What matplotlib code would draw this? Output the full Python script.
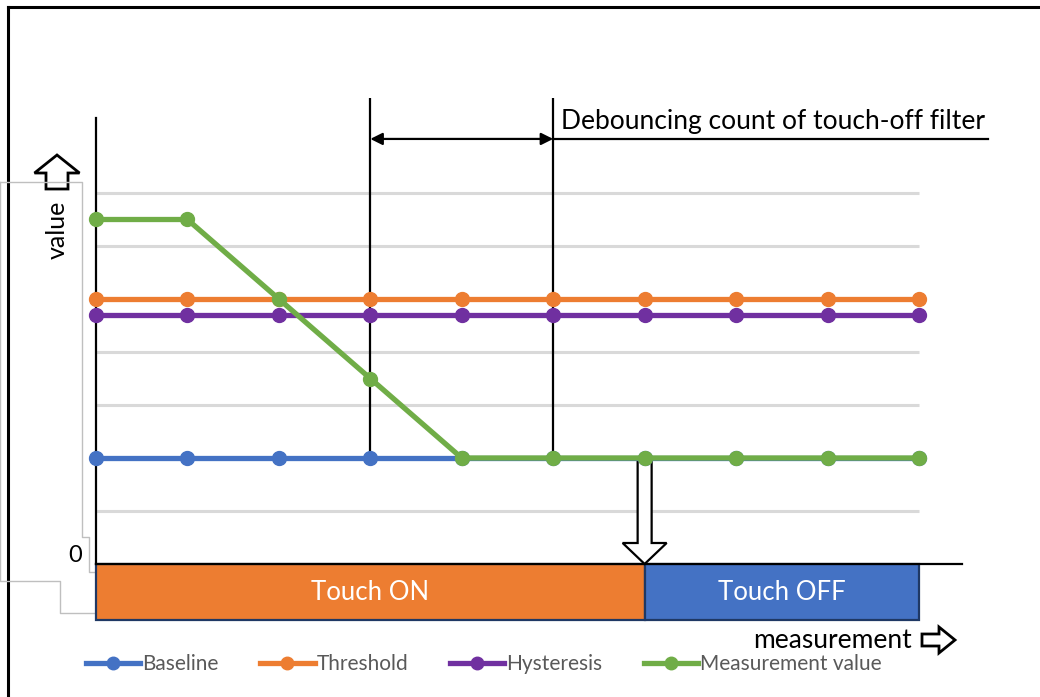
import matplotlib.pyplot as plt
from matplotlib.patches import FancyArrow, Rectangle

# Daten
steps = [0, 1, 2, 3, 4, 5, 6, 7, 8, 9]
baseline = [2, 2, 2, 2, 2, 2, 2, 2, 2, 2]
threshold = [5, 5, 5, 5, 5, 5, 5, 5, 5, 5]
hysteresis = [4.7, 4.7, 4.7, 4.7, 4.7, 4.7, 4.7, 4.7, 4.7, 4.7]
measurement = [6.5, 6.5, 5, 3.5, 2, 2, 2, 2, 2, 2]
grid_levels = [1, 2, 3, 4, 5, 6, 7]
series_names = ["Baseline", "Threshold", "Hysteresis", "Measurement value"]
series_colors = ["#4472C4", "#ED7D31", "#7030A0", "#70AD47"]
state_labels = ["Touch ON", "Touch OFF"]
state_edges = [0, 6, 9]
state_colors = ["#ED7D31", "#4472C4"]
debounce_start, debounce_end = 3, 5
touch_off_step = 6

plt.rcParams['font.family'] = ['Lato', 'DejaVu Sans']

W, H = 1040, 697
fig = plt.figure(figsize=(W / 100, H / 100), dpi=100)

# Hintergrund-Achse in Pixelkoordinaten für Rahmen und Pfeile
bg = fig.add_axes([0, 0, 1, 1], zorder=0)
bg.set_xlim(0, W)
bg.set_ylim(H, 0)
bg.axis('off')

# Rahmen links und oben
bg.plot([8, 8], [7, H], color='black', lw=2.2)
bg.plot([8, W], [7, 7], color='black', lw=2.2)

# graue Textfeld-Reste
gray = '#BFBFBF'
bg.plot([0, 82, 82, 89, 89, 96], [182, 182, 537, 537, 572, 572], color=gray, lw=1)
bg.plot([0, 0, 60, 60, 96], [182, 581, 581, 613, 613], color=gray, lw=1)

# Pfeil nach oben (value)
bg.add_patch(FancyArrow(57, 189, 0, -34, width=22, head_width=45, head_length=18,
                        length_includes_head=True, fc='white', ec='black', lw=2))
bg.text(57, 230, "value", rotation=90, ha='center', va='center', fontsize=18)
bg.text(75, 556, "0", ha='center', va='center', fontsize=17)

# Pfeil nach rechts (measurement)
bg.add_patch(FancyArrow(922, 640, 33, 0, width=12, head_width=26, head_length=16,
                        length_includes_head=True, fc='white', ec='black', lw=2))
bg.text(912, 640, "measurement", ha='right', va='center', fontsize=19)

# Hauptachse
px_x = 91.44
px_y = 53.0
left, right, top, bottom = 96, 962, 118, 564
ax = fig.add_axes([left / W, 1 - bottom / H, (right - left) / W, (bottom - top) / H], zorder=1)
ax.set_facecolor('none')
ax.set_xlim(0, (right - left) / px_x)
ax.set_ylim(0, (bottom - top) / px_y)
for s in ['top', 'right']:
    ax.spines[s].set_visible(False)
for s in ['left', 'bottom']:
    ax.spines[s].set_linewidth(1.6)
    ax.spines[s].set_color('black')
ax.set_xticks([])
ax.set_yticks([])

ax.hlines(grid_levels, steps[0], steps[-1], color='#D9D9D9', lw=2.2, zorder=1)

# Debounce-Markierung
y_top = 8.79
y_arr = 8.02
ax.vlines([debounce_start, debounce_end], 2, y_top, color='black', lw=1.6, zorder=2, clip_on=False)
ax.annotate("", xy=(debounce_start, y_arr), xytext=(debounce_end, y_arr),
            arrowprops=dict(arrowstyle='<|-|>', color='black', lw=1.6,
                            mutation_scale=18, shrinkA=0, shrinkB=0),
            annotation_clip=False)
ax.plot([debounce_end, (988 - left) / px_x], [y_arr, y_arr], color='black', lw=1.6, clip_on=False)
ax.text(debounce_end + 0.09, y_arr + 0.1, "Debouncing count of touch-off filter",
        ha='left', va='bottom', fontsize=19)

# hohler Pfeil nach unten
ax.add_patch(FancyArrow(touch_off_step, 2, 0, -2, width=14 / px_x, head_width=44 / px_x,
                        head_length=21 / px_y, length_includes_head=True,
                        fc='white', ec='black', lw=1.6, zorder=2.5, clip_on=False))

# Serien
data = [baseline, threshold, hysteresis, measurement]
handles = []
for i, (vals, name, col) in enumerate(zip(data, series_names, series_colors)):
    h, = ax.plot(steps, vals, color=col, lw=3.8, marker='o', markersize=10,
                 label=name, zorder=3 + i, clip_on=False)
    handles.append(h)

# Zustandsbalken
bar_h = (620 - bottom) / px_y
for i, (lab, col) in enumerate(zip(state_labels, state_colors)):
    x0, x1 = state_edges[i], state_edges[i + 1]
    ax.add_patch(Rectangle((x0, -bar_h), x1 - x0, bar_h, fc=col, ec='#1F3864',
                           lw=1.6, clip_on=False, zorder=2))
    ax.text((x0 + x1) / 2, -bar_h / 2, lab, color='white', ha='center', va='center',
            fontsize=18.5, zorder=3)

leg = fig.legend(handles=handles, loc='center', bbox_to_anchor=(484 / W, 1 - 664 / H),
                 ncol=4, frameon=False, fontsize=15, handlelength=2.6,
                 handletextpad=0.1, columnspacing=2.0, borderpad=0, markerscale=0.9)
for t in leg.get_texts():
    t.set_color('#595959')

fig.savefig("out.png", dpi=100)
